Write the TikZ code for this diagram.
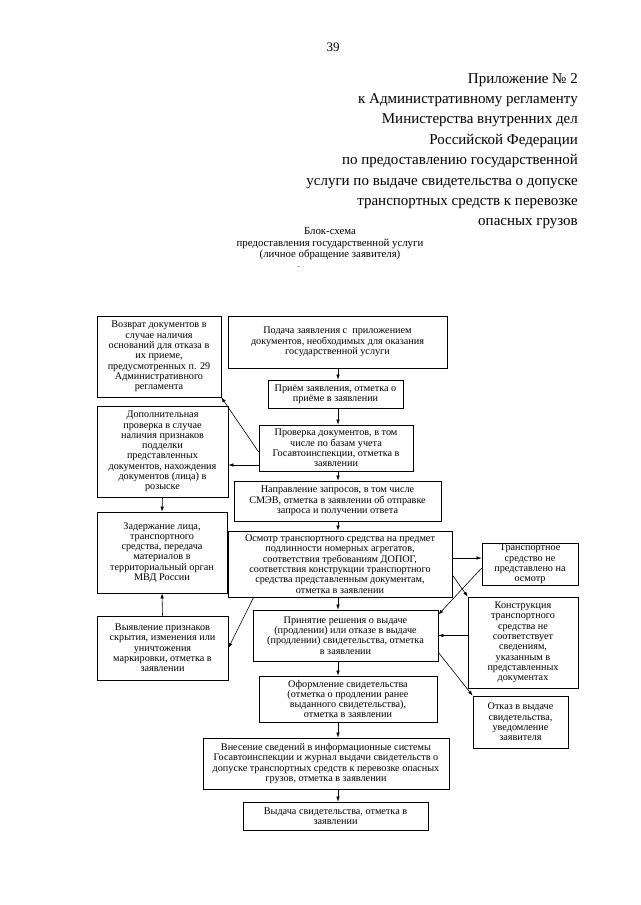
\documentclass[tikz,border=0pt]{standalone}
\usepackage{fontspec}
\setmainfont{Liberation Serif}
\usetikzlibrary{arrows.meta}

\begin{document}
\begin{tikzpicture}[x=1pt,y=-1pt,>={Latex[length=5pt,width=3.5pt]}]
  \useasboundingbox (0,0) rectangle (640,905);
  \node[font=\fontsize{13}{15}\selectfont] (page) at (333,47) {39};
  \node[anchor=north east, align=right, inner sep=0pt, font=\fontsize{15}{20.4}\selectfont] (annex) at (578,73)
    {Приложение № 2\\ к Административному регламенту\\
     Министерства внутренних дел\\ Российской Федерации\\
     по предоставлению государственной\\ услуги по выдаче свидетельства о допуске\\
     транспортных средств к перевозке\\ опасных грузов};
  \node[align=center, inner sep=0pt, font=\fontsize{10.8}{11.5}\selectfont] (title) at (330,244)
    {Блок-схема\\ предоставления государственной услуги\\ (личное обращение заявителя)};
  \node[inner sep=0pt, font=\fontsize{9}{10}\selectfont] (dot) at (299,267) {.};
  \coordinate (axis) at (338,0);
  \begin{scope}
    \begin{scope}[every node/.style={draw=black, line width=0.7pt, align=center, inner sep=1pt,
        font=\fontsize{10.2}{10.3}\selectfont}]
      \node[minimum width=124pt, minimum height=81pt] (ret) at (159,356.5)
        {Возврат документов в\\ случае наличия\\ оснований для отказа в\\ их приеме,\\
         предусмотренных п. 29\\ Административного\\ регламента};
      \node[minimum width=219pt, minimum height=52pt] (submit) at (337.5,342)
        {Подача заявления с\ \ приложением\\ документов, необходимых для оказания\\ государственной услуги};
      \node[minimum width=135pt, minimum height=28pt] (recv) at (335.5,394)
        {Приём заявления, отметка о\\ приёме в заявлении};
      \node[minimum width=154pt, minimum height=46pt] (check) at (336,448)
        {Проверка документов, в том\\ числе по базам учета\\ Госавтоинспекции, отметка в\\ заявлении};
      \node[minimum width=131pt, minimum height=91pt] (extra) at (162.5,451.5)
        {Дополнительная\\ проверка в случае\\ наличия признаков\\ подделки\\ представленных\\
         документов, нахождения\\ документов (лица) в\\ розыске};
      \node[minimum width=207pt, minimum height=40pt] (req) at (337.5,501)
        {Направление запросов, в том числе\\ СМЭВ, отметка в заявлении об отправке\\ запроса и получении ответа};
      \node[minimum width=130pt, minimum height=81pt] (detain) at (162,552.5)
        {Задержание лица,\\ транспортного\\ средства, передача\\ материалов в\\
         территориальный орган\\ МВД России};
      \node[minimum width=224pt, minimum height=66pt] (insp) at (340,564)
        {Осмотр транспортного средства на предмет\\ подлинности номерных агрегатов,\\
         соответствия требованиям ДОПОГ,\\ соответствия конструкции транспортного\\
         средства представленным документам,\\ отметка в заявлении};
      \node[minimum width=96pt, minimum height=40pt] (notveh) at (530,564)
        {Транспортное\\ средство не\\ представлено на\\ осмотр};
      \node[minimum width=131pt, minimum height=64pt] (mark) at (162.5,648)
        {Выявление признаков\\ скрытия, изменения или\\ уничтожения\\ маркировки, отметка в\\ заявлении};
      \node[minimum width=185pt, minimum height=51pt] (decide) at (345.5,635.5)
        {Принятие решения о выдаче\\ (продлении) или отказе в выдаче\\
         (продлении) свидетельства, отметка\\ в заявлении};
      \node[minimum width=110pt, minimum height=91pt] (mismatch) at (523,642.5)
        {Конструкция\\ транспортного\\ средства не\\ соответствует\\ сведениям,\\
         указанным в\\ представленных\\ документах};
      \node[minimum width=95pt, minimum height=52pt] (refuse) at (520.5,722)
        {Отказ в выдаче\\ свидетельства,\\ уведомление\\ заявителя};
      \node[minimum width=178pt, minimum height=46pt] (issuedoc) at (348,699)
        {Оформление свидетельства\\ (отметка о продлении ранее\\ выданного свидетельства),\\ отметка в заявлении};
      \node[minimum width=246pt, minimum height=51pt] (enter) at (326,763.5)
        {Внесение сведений в информационные системы\\ Госавтоинспекции и журнал выдачи свидетельств о\\
         допуске транспортных средств к перевозке опасных\\ грузов, отметка в заявлении};
      \node[minimum width=185pt, minimum height=28pt] (give) at (335.5,816)
        {Выдача свидетельства, отметка в\\ заявлении};
    \end{scope}
    \begin{scope}[every edge/.style={draw=black, line width=0.6pt, ->}]
      \path (submit.south -| axis) edge (recv.north -| axis);
      \path (recv.south -| axis) edge (check.north -| axis);
      \path (check.south -| axis) edge (req.north -| axis);
      \path (req.south -| axis) edge (insp.north -| axis);
      \path (insp.south -| axis) edge (decide.north -| axis);
      \path (decide.south -| axis) edge (issuedoc.north -| axis);
      \path (issuedoc.south -| axis) edge (enter.north -| axis);
      \path (enter.south -| axis) edge (give.north -| axis);
      \path ([yshift=-4pt]check.west) edge (ret.south east);
      \path ([yshift=-17pt]check.west) edge ([yshift=-17pt]check.west -| extra.east);
      \path (extra.south) edge (detain.north);
      \path (mark.north) edge (detain.south);
      \path ([xshift=26pt]insp.south west) edge (mark.east);
      \path ([yshift=6pt]insp.east) edge ([yshift=6pt]notveh.west);
      \path ([yshift=-4pt]notveh.west) edge ([yshift=-5pt]decide.north east);
      \path ([yshift=-11pt]insp.east) edge (mismatch.north west);
      \path (mismatch.west |- decide.east) edge (decide.east);
      \path ([yshift=9pt]decide.south east) edge (refuse.north west);
    \end{scope}
  \end{scope}
\end{tikzpicture}
\end{document}
